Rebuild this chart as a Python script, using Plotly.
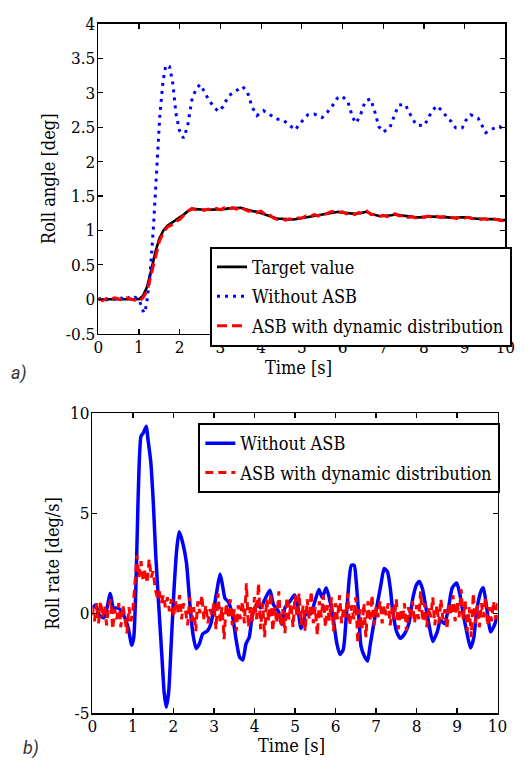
import plotly.graph_objects as go

# ---------------- data: panel a (roll angle) ----------------
t_grid = [round(i * 0.1, 1) for i in range(101)]

target_value = [
    0.00, 0.00, 0.00, 0.00, 0.00, 0.00, 0.00, 0.00, 0.00, 0.00, 0.00,
    0.05, 0.18, 0.42, 0.68, 0.88, 1.00, 1.07, 1.11, 1.14, 1.18,
    1.23, 1.28, 1.31, 1.31, 1.30, 1.30, 1.30, 1.30, 1.31, 1.31,
    1.31, 1.32, 1.32, 1.32, 1.33, 1.31, 1.29, 1.28, 1.27, 1.25,
    1.24, 1.22, 1.19, 1.17, 1.17, 1.16, 1.16, 1.16, 1.17, 1.19,
    1.20, 1.21, 1.22, 1.23, 1.24, 1.25, 1.26, 1.27, 1.27, 1.26,
    1.25, 1.25, 1.24, 1.25, 1.26, 1.27, 1.24, 1.22, 1.21, 1.21,
    1.21, 1.22, 1.23, 1.22, 1.21, 1.20, 1.19, 1.19, 1.19, 1.20,
    1.20, 1.20, 1.20, 1.20, 1.19, 1.19, 1.18, 1.19, 1.19, 1.19,
    1.18, 1.18, 1.17, 1.17, 1.17, 1.16, 1.16, 1.16, 1.15, 1.15,
]

asb_angle = [
    0.01, -0.02, 0.01, 0.00, 0.02, 0.01, -0.01, 0.02, 0.00, -0.01, -0.03,
    0.02, 0.12, 0.36, 0.62, 0.84, 0.97, 1.05, 1.08, 1.13, 1.16,
    1.22, 1.28, 1.32, 1.30, 1.31, 1.29, 1.31, 1.29, 1.32, 1.30,
    1.33, 1.31, 1.33, 1.31, 1.35, 1.30, 1.28, 1.29, 1.26, 1.28,
    1.23, 1.23, 1.18, 1.16, 1.17, 1.15, 1.17, 1.15, 1.18, 1.18,
    1.21, 1.20, 1.23, 1.21, 1.25, 1.24, 1.27, 1.28, 1.26, 1.27,
    1.24, 1.26, 1.23, 1.26, 1.24, 1.28, 1.23, 1.23, 1.20, 1.22,
    1.20, 1.23, 1.24, 1.21, 1.22, 1.19, 1.20, 1.18, 1.20, 1.19,
    1.21, 1.19, 1.21, 1.19, 1.20, 1.18, 1.19, 1.17, 1.20, 1.18,
    1.19, 1.17, 1.18, 1.16, 1.17, 1.15, 1.17, 1.15, 1.14, 1.15,
]

noasb_angle_t = [
    0.0, 0.1, 0.2, 0.3, 0.4, 0.5, 0.6, 0.7, 0.8, 0.9, 1.0, 1.05, 1.12, 1.18,
    1.22, 1.27, 1.35, 1.43, 1.51, 1.59, 1.66, 1.75, 1.83, 1.91, 1.99, 2.09,
    2.19, 2.31, 2.43, 2.51, 2.61, 2.71, 2.83, 2.95, 3.07, 3.19, 3.31, 3.43,
    3.55, 3.67, 3.78, 3.9, 4.06, 4.22, 4.38, 4.55, 4.7, 4.84, 4.95, 5.15,
    5.31, 5.5, 5.63, 5.75, 5.87, 5.99, 6.13, 6.25, 6.33, 6.43, 6.56, 6.69,
    6.81, 6.89, 7.0, 7.16, 7.3, 7.38, 7.54, 7.62, 7.72, 7.82, 8.0, 8.1,
    8.18, 8.31, 8.46, 8.58, 8.66, 8.78, 8.94, 9.03, 9.15, 9.33, 9.43, 9.52,
    9.7, 9.86, 10.0,
]
noasb_angle = [
    0.0, 0.02, -0.01, 0.02, 0.0, 0.03, 0.01, 0.04, 0.0, 0.03, 0.0, -0.08, -0.2, -0.1,
    0.1, 0.34, 1.0, 1.8, 2.65, 3.17, 3.4, 3.38, 3.14, 2.69, 2.46, 2.34,
    2.5, 2.93, 3.08, 3.12, 3.0, 2.9, 2.8, 2.73, 2.8, 2.95, 3.0, 3.05,
    3.09, 3.0, 2.79, 2.67, 2.74, 2.68, 2.62, 2.6, 2.52, 2.46, 2.55, 2.68,
    2.69, 2.64, 2.72, 2.81, 2.92, 2.95, 2.87, 2.64, 2.56, 2.66, 2.88, 2.91,
    2.69, 2.51, 2.43, 2.49, 2.71, 2.82, 2.83, 2.73, 2.62, 2.53, 2.52, 2.62,
    2.72, 2.81, 2.73, 2.63, 2.59, 2.49, 2.49, 2.6, 2.68, 2.63, 2.53, 2.42,
    2.48, 2.51, 2.43,
]

# ---------------- data: panel b (roll rate) ----------------
noasb_rate_t = [
    0.0, 0.08, 0.16, 0.28, 0.36, 0.44, 0.52, 0.64, 0.76, 0.88, 0.97, 1.02, 1.08,
    1.13, 1.2, 1.26, 1.33, 1.37, 1.44, 1.5, 1.56, 1.64, 1.72, 1.77, 1.82, 1.88,
    1.94, 2.01, 2.08, 2.14, 2.22, 2.32, 2.4, 2.48, 2.56, 2.64, 2.72, 2.84, 2.92,
    3.0, 3.08, 3.15, 3.21, 3.27, 3.35, 3.45, 3.55, 3.63, 3.71, 3.79, 3.87, 3.95,
    4.07, 4.15, 4.27, 4.38, 4.47, 4.59, 4.67, 4.75, 4.87, 4.99,
    5.06, 5.15, 5.27, 5.39, 5.47, 5.59, 5.67, 5.77, 5.87, 5.95, 6.03, 6.11, 6.19,
    6.27, 6.34, 6.39, 6.46, 6.51, 6.57, 6.63, 6.71, 6.79, 6.85, 6.93, 7.03, 7.12,
    7.2, 7.28, 7.35, 7.41, 7.51, 7.6, 7.71, 7.81, 7.91, 8.0, 8.07, 8.15, 8.23,
    8.31, 8.4, 8.51, 8.59, 8.69, 8.79, 8.88, 8.99, 9.07, 9.15, 9.23, 9.33, 9.41,
    9.49, 9.59, 9.65, 9.73, 9.83, 9.92, 10.0,
]
noasb_rate = [
    0.26, 0.42, -0.06, -0.23, 0.26, 0.99, 0.26, 0.26, -0.06, -0.71, -1.6, -1.2, 1.88,
    5.94, 8.86, 9.03, 9.35, 8.7, 7.56, 5.62, 3.02, 0.26, -2.34, -3.96, -4.69, -3.96,
    -1.69, 1.07, 3.18, 4.07, 3.59, 2.53, 0.58, -1.04, -1.77, -1.53, -1.04, -0.88, -0.55,
    0.26, 1.23, 1.96, 1.4, 0.75, 0.58, -0.06, -1.36, -2.18, -2.34, -1.53, -1.2, -0.06,
    0.5, 0.26, 0.75, 1.15, 0.42, 0.1, -0.55, 0.26, 0.58, 0.91,
    0.45, -0.76, -0.03, -0.03, 0.45, 1.19, 0.78, 1.27, 0.54, -0.36, -1.49, -2.06, -1.82,
    -0.03, 1.75, 2.4, 2.4, 1.59, -0.03, -1.66, -2.14, -2.39, -1.66, -0.68, 0.45, 1.43,
    2.24, 2.08, 1.27, 0.13, -0.93, -1.25, -1.01, -0.52, 0.78, 1.43, 1.59, 1.19, 0.29,
    -0.6, -1.41, -0.93, -0.36, -0.52, 0.29, 1.27, 1.51, 0.94, -0.03, -0.84, -1.74, -1.25,
    0.21, 1.1, 1.27, 0.29, -0.93, -0.6, -0.1,
]

rate_t = [round(i * 0.05, 2) for i in range(201)]
asb_rate = [
    0.3, -0.4, 0.5, -0.5, 0.6, -0.2, 0.4, -0.6, 0.3, 0.7, -0.8, 0.2, -0.3, 0.5, -0.7, 0.4, -0.2, -1.0, 0.3, -0.4, 0.2,
    1.5, 2.9, 1.8, 2.6, 1.6, 2.2, 1.5, 2.7, 1.8, 2.1, 1.2, 0.8, 1.1, 0.5, 0.9, 0.3, 0.8, 0.1, 0.7, -0.2,
    0.6, 0.0, 0.9, -0.3, 0.5, 0.1, -0.6, 0.8, -0.4, 0.3, -0.9, 0.6, 0.0, 0.9, -0.3, 0.4, -0.5, 0.2, -0.1, 0.5,
    -0.8, 1.0, -0.4, 0.3, -1.3, 0.5, -0.2, 0.7, -0.6, 0.2, -0.9, 0.4, -0.3, 0.6, -0.5, 1.5, -0.7, 0.3, -0.4, 0.8,
    -0.3, 1.5, -0.8, 0.5, -1.2, 0.7, -0.4, 1.0, -0.9, 0.3, -0.5, 1.1, -0.6, 0.2, -1.0, 0.8, -0.3, 0.5, -0.7, 0.9,
    -0.2, 1.0, -0.6, 0.4, -0.9, 0.7, -0.3, 1.1, -0.5, 0.3, -1.1, 0.6, -0.2, 0.9, -0.7, 0.4, -0.4, 0.8, -0.9, 0.5,
    -0.3, 0.9, -0.5, 0.3, -0.2, 1.0, -0.6, 0.4, -0.3, 0.8, -1.5, 0.2, -0.8, 0.5, -1.2, 0.6, -0.4, 0.9, -0.6, 0.3,
    -0.2, 0.6, -0.5, 0.4, -0.1, 0.5, -0.6, 0.3, -0.3, 0.7, -0.8, 0.2, -0.4, 0.5, -0.9, 0.3, -0.2, 0.6, -0.5, 0.4,
    -0.3, 1.1, -0.4, 0.5, -0.7, 0.3, -0.2, 0.8, -0.6, 0.4, -0.5, 0.7, -0.3, 0.2, -0.8, 0.5, -0.1, 0.9, -0.4, 0.6,
    -0.2, 1.2, -0.3, 0.6, -0.9, 0.3, -1.2, 1.0, -0.5, 0.4, -0.7, 0.5, -0.2, 0.8, -0.6, 0.3, -0.4, 0.6, -0.3, 0.5,
]

# ---------------- ticks / labels ----------------
x_ticks = list(range(0, 11))
x_ticktext = [str(v) for v in x_ticks]
ya_ticks = [-0.5, 0, 0.5, 1, 1.5, 2, 2.5, 3, 3.5, 4]
ya_ticktext = ["-0.5", "0", "0.5", "1", "1.5", "2", "2.5", "3", "3.5", "4"]
yb_ticks = [-5, 0, 5, 10]
yb_ticktext = ["-5", "0", "5", "10"]

SERIF = "DejaVu Serif Condensed"
W, H = 528, 770

fig = go.Figure()

# panel a
fig.add_trace(go.Scatter(x=t_grid, y=target_value, mode="lines", name="Target value", legendgroup="a1",
                         line=dict(color="black", width=2.6), xaxis="x", yaxis="y", legend="legend"))
fig.add_trace(go.Scatter(x=noasb_angle_t, y=noasb_angle, mode="lines", name="Without ASB", legendgroup="a2",
                         line=dict(color="#0000ff", width=3, dash="3px,5px"), xaxis="x", yaxis="y", legend="legend"))
fig.add_trace(go.Scatter(x=t_grid, y=asb_angle, mode="lines", name="ASB with dynamic distribution", legendgroup="a3",
                         line=dict(color="#ff0000", width=3, dash="10px,5px"), xaxis="x", yaxis="y", legend="legend"))

# panel b
fig.add_trace(go.Scatter(x=noasb_rate_t, y=noasb_rate, mode="lines", name="Without ASB", legendgroup="b1",
                         line=dict(color="#0000ff", width=3.5, shape="spline", smoothing=0.6),
                         xaxis="x2", yaxis="y2", legend="legend2"))
fig.add_trace(go.Scatter(x=rate_t, y=asb_rate, mode="lines", name="ASB with dynamic distribution", legendgroup="b2",
                         line=dict(color="#ff0000", width=3, dash="8px,5px"),
                         xaxis="x2", yaxis="y2", legend="legend2"))

def px_x(p):
    return p / W

def px_y(p):
    return 1 - p / H

axis_common = dict(
    showline=True, linecolor="black", linewidth=1.6, mirror="allticks",
    ticks="inside", ticklen=5, tickwidth=1.2, tickcolor="black",
    showgrid=False, zeroline=False,
    tickfont=dict(family=SERIF, size=17, color="black"),
)

legend_common = dict(
    xanchor="left", yanchor="top",
    bgcolor="white", bordercolor="black", borderwidth=2,
    font=dict(family=SERIF, size=18, color="black"),
    tracegroupgap=3, itemwidth=30,
)

fig.update_layout(
    width=W, height=H,
    margin=dict(l=0, r=0, t=0, b=0),
    paper_bgcolor="white", plot_bgcolor="white",
    font=dict(family=SERIF, color="black"),
    xaxis=dict(domain=[px_x(96), px_x(515)], range=[0, 10], tickvals=x_ticks, ticktext=x_ticktext,
               anchor="y", ticklabelstandoff=-3, **axis_common),
    yaxis=dict(domain=[px_y(332.3), px_y(14.3)], range=[-0.5, 4], tickvals=ya_ticks, ticktext=ya_ticktext,
               anchor="x", ticklabelstandoff=-2, **axis_common),
    xaxis2=dict(domain=[px_x(90), px_x(507)], range=[0, 10], tickvals=x_ticks, ticktext=x_ticktext,
                anchor="y2", ticklabelstandoff=-3, **axis_common),
    yaxis2=dict(domain=[px_y(722), px_y(414)], range=[-5, 10], tickvals=yb_ticks, ticktext=yb_ticktext,
                anchor="x2", ticklabelstandoff=-2, **axis_common),
    legend=dict(x=px_x(211), y=px_y(243), **legend_common),
    legend2=dict(x=px_x(199), y=px_y(424), **legend_common),
    showlegend=True,
)

title_font = dict(family=SERIF, size=18, color="black")
annotations = [
    dict(text="Roll angle [deg]", x=px_x(45), y=px_y(173), textangle=-90),
    dict(text="Time [s]", x=px_x(302), y=px_y(367)),
    dict(text="Roll rate [deg/s]", x=px_x(49), y=px_y(568), textangle=-90),
    dict(text="Time [s]", x=px_x(295), y=px_y(755)),
]
for a in annotations:
    fig.add_annotation(xref="paper", yref="paper", xanchor="center", yanchor="middle",
                       showarrow=False, font=title_font, **a)

panel_font = dict(family="Roboto", size=18, color="#333333")
fig.add_annotation(text="<i>a)</i>", xref="paper", yref="paper", x=px_x(14), y=px_y(373),
                   xanchor="center", yanchor="middle", showarrow=False, font=panel_font)
fig.add_annotation(text="<i>b)</i>", xref="paper", yref="paper", x=px_x(27), y=px_y(758),
                   xanchor="center", yanchor="middle", showarrow=False, font=panel_font)

# remove the default 8px page margin so the figure fills the window exactly
fig.write_html(
    "out.html",
    config={"displayModeBar": False, "staticPlot": True},
    post_script="document.body.style.margin='0';document.body.style.overflow='hidden';",
)
